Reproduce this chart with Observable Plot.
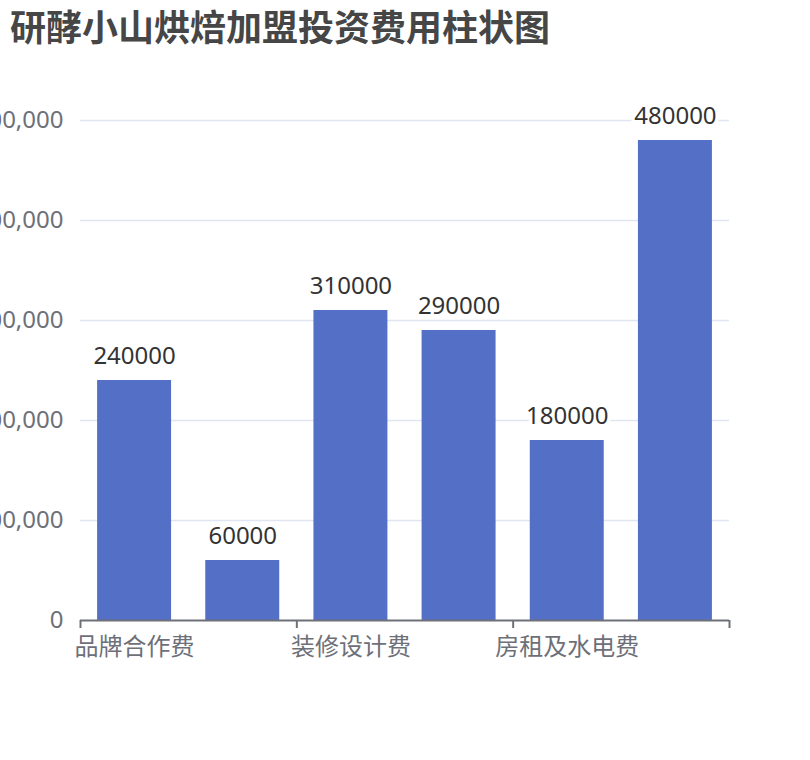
<!DOCTYPE html>
<html>
<head>
<meta charset="utf-8">
<script src="https://cdn.jsdelivr.net/npm/d3@7"></script>
<script src="https://cdn.jsdelivr.net/npm/@observablehq/plot@0.6"></script>
<style>
  body { margin: 0; background: #fff; font-family: "Noto Sans", "Noto Sans CJK SC", sans-serif; }
  #title { height: 60px; line-height: 50px; padding-left: 10px; font-size: 36px; font-weight: bold; color: #464646; font-family: "Noto Sans CJK SC", sans-serif; white-space: nowrap; }
</style>
</head>
<body>
<div id="title">研酵小山烘焙加盟投资费用柱状图</div>
<div id="chart"></div>
<script>
const titleText = "研酵小山烘焙加盟投资费用柱状图";
const categories = ["品牌合作费", "加盟保证金", "装修设计费", "设备采购费", "房租及水电费", "人员及运营费"];
const values = [240000, 60000, 310000, 290000, 180000, 480000];
const yTicks = [0, 100000, 200000, 300000, 400000, 500000];
const labelEvery = 2;

const data = categories.map((c, i) => ({category: c, index: i, value: values[i]}));
const pad = 0.158;
const boundaryTicks = d3.range(0, categories.length + 1, labelEvery);
const labelTicks = d3.range(0, categories.length, labelEvery).map(i => i + 0.5);

const font = '"Noto Sans", "Noto Sans CJK SC", sans-serif';

const chart = Plot.plot({
  width: 810,
  height: 700,
  marginLeft: 80,
  marginRight: 81,
  marginTop: 60,
  marginBottom: 140,
  style: {fontFamily: font, fontSize: "24px", background: "#fff", overflow: "visible"},
  x: {domain: [0, categories.length], axis: null},
  y: {domain: [0, 500000], axis: null},
  marks: [
    Plot.gridY(yTicks.filter(d => d > 0), {stroke: "#e0e6f1", strokeOpacity: 1, strokeWidth: 1.5}),
    Plot.axisY(yTicks, {
      tickSize: 0, tickPadding: 17, tickFormat: d3.format(","),
      fill: "#6e7079", fontSize: 24, label: null
    }),
    Plot.rectY(data, {
      x1: d => d.index + pad, x2: d => d.index + 1 - pad,
      y: "value", fill: "#5470c6"
    }),
    Plot.text(data, {
      x: d => d.index + 0.5, y: "value", text: d => String(d.value),
      lineAnchor: "bottom", dy: -17, fill: "#333", fontSize: 24,
      stroke: "#fff", strokeWidth: 7
    }),
    Plot.ruleY([0], {stroke: "#6e7079", strokeWidth: 2}),
    Plot.axisX(boundaryTicks, {
      tickSize: 8, tickFormat: () => "", stroke: "#6e7079", strokeWidth: 2, label: null
    }),
    Plot.axisX(labelTicks, {
      tickSize: 0, tickPadding: 17, tickFormat: d => categories[d - 0.5],
      fill: "#6e7079", fontSize: 24, label: null
    })
  ]
});
chart.style.overflow = "hidden";
document.getElementById("chart").appendChild(chart);
</script>
</body>
</html>
